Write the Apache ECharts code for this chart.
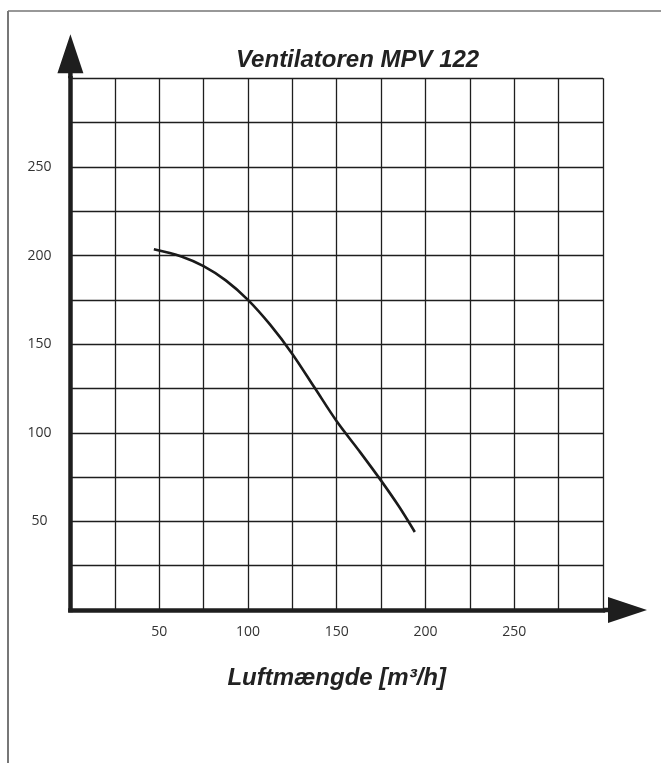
<!DOCTYPE html>
<html>
<head>
<meta charset="utf-8">
<script src="https://cdn.jsdelivr.net/npm/echarts@6/dist/echarts.min.js"></script>
<style>
html,body{margin:0;padding:0;background:#fff;}
#chart{width:661px;height:763px;}
</style>
</head>
<body>
<div id="chart"></div>
<script>
// Data
var titleText = 'Ventilatoren MPV 122';
var xAxisName = 'Luftmængde [m³/h]';
var xMin = 0, xMax = 300, xStep = 25;
var yMin = 0, yMax = 300, yStep = 25;
var xLabelValues = [50, 100, 150, 200, 250];
var yLabelValues = [50, 100, 150, 200, 250];
var airflow = [47, 62.5, 75, 87.5, 100, 112.5, 125, 137.5, 150, 162.5, 175, 185, 194];
var pressure = [203.5, 199.5, 194, 186, 175, 161, 144.5, 125.5, 106.5, 90, 73, 58.5, 44];

var curve = airflow.map(function (x, i) { return [x, pressure[i]]; });
var arrowPath = 'path://M13,0 L26,39 L15.25,39 L15.25,44 L10.75,44 L10.75,39 L0,39 Z';
var ink = '#1e1e1e';

var chart = echarts.init(document.getElementById('chart'), null, {renderer: 'canvas'});
chart.setOption({
  backgroundColor: '#ffffff',
  animation: false,
  title: {
    text: titleText,
    left: 231,
    top: 43,
    textStyle: {
      fontFamily: 'Liberation Sans',
      fontStyle: 'italic',
      fontWeight: 'bold',
      fontSize: 24,
      color: '#222'
    }
  },
  graphic: [
    {type: 'line', shape: {x1: 8, y1: 11, x2: 661, y2: 11}, style: {stroke: '#333', lineWidth: 1.2}, silent: true},
    {type: 'line', shape: {x1: 8, y1: 11, x2: 8, y2: 763}, style: {stroke: '#777', lineWidth: 2}, silent: true}
  ],
  grid: {left: 70.4, right: 58, top: 78.3, bottom: 153, containLabel: false},
  xAxis: {
    type: 'value',
    min: xMin, max: xMax, interval: xStep,
    name: xAxisName,
    nameLocation: 'middle',
    nameGap: 56,
    nameTextStyle: {
      fontFamily: 'Liberation Sans',
      fontStyle: 'italic',
      fontWeight: 'bold',
      fontSize: 24,
      color: '#222'
    },
    axisLine: {
      show: true, onZero: false,
      lineStyle: {color: ink, width: 4.5, cap: 'square'},
      symbol: ['none', arrowPath],
      symbolSize: [26, 44],
      symbolOffset: [0, 22]
    },
    axisTick: {show: false},
    axisLabel: {
      margin: 15,
      fontFamily: 'Open Sans',
      fontSize: 14,
      color: '#333',
      formatter: function (v) { return xLabelValues.indexOf(v) >= 0 ? String(v) : ''; }
    },
    splitLine: {show: true, lineStyle: {color: ink, width: 1.3}}
  },
  yAxis: {
    type: 'value',
    min: yMin, max: yMax, interval: yStep,
    axisLine: {
      show: true, onZero: false,
      lineStyle: {color: ink, width: 4.5, cap: 'square'},
      symbol: ['none', arrowPath],
      symbolSize: [26, 44],
      symbolOffset: [0, 22]
    },
    axisTick: {show: false},
    axisLabel: {
      margin: 31,
      align: 'center',
      fontFamily: 'Open Sans',
      fontSize: 14,
      color: '#333',
      formatter: function (v) { return yLabelValues.indexOf(v) >= 0 ? String(v) : ''; }
    },
    splitLine: {show: true, lineStyle: {color: ink, width: 1.3}}
  },
  series: [{
    type: 'line',
    data: curve,
    smooth: 0.35,
    showSymbol: false,
    symbol: 'none',
    lineStyle: {color: '#1a1a1a', width: 2.6},
    z: 5
  }]
});
</script>
</body>
</html>
